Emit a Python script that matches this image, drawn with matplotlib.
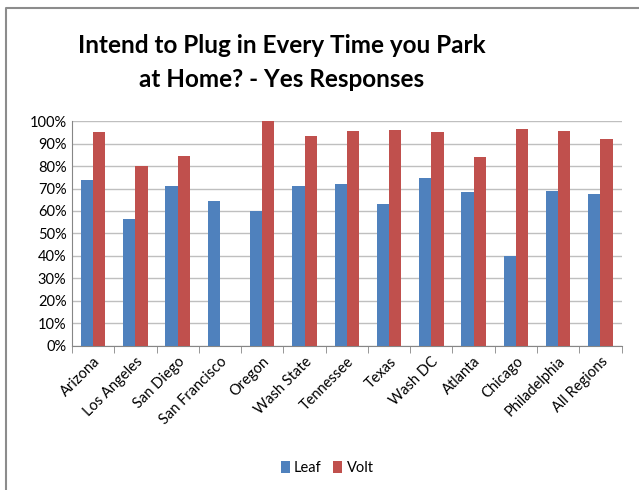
import numpy as np
import matplotlib.pyplot as plt
from matplotlib.lines import Line2D
from matplotlib.ticker import PercentFormatter

regions = ['Arizona', 'Los Angeles', 'San Diego', 'San Francisco', 'Oregon',
           'Wash State', 'Tennessee', 'Texas', 'Wash DC', 'Atlanta',
           'Chicago', 'Philadelphia', 'All Regions']
leaf = [74, 56.5, 71, 64.5, 60, 71, 72, 63, 74.5, 68.5, 40, 69, 67.5]
volt = [95, 80, 84.5, 0, 100, 93.5, 95.5, 96, 95, 84, 96.5, 95.5, 92]

plt.rcParams['font.family'] = ['Lato', 'DejaVu Sans']

fig = plt.figure(figsize=(6.39, 4.90), dpi=100)
ax = fig.add_axes([0.1127, 0.294, 0.860, 0.459])

x = np.arange(len(regions))
w = 0.29
ax.bar(x - w/2, leaf, w, color='#4F81BD', label='Leaf', zorder=3)
ax.bar(x + w/2, volt, w, color='#C0504D', label='Volt', zorder=3)

ax.set_ylim(0, 100)
ax.set_xlim(-0.5, len(regions) - 0.5)
ax.set_yticks(np.arange(0, 101, 10))
ax.yaxis.set_major_formatter(PercentFormatter(decimals=0))
ax.grid(axis='y', color='#BFBFBF', linewidth=1, zorder=0)

# category boundary ticks like Excel
ax.set_xticks(np.arange(-0.5, len(regions) + 0.5, 1), minor=True)
ax.set_xticks(x)
ax.set_xticklabels(regions, rotation=45, ha='right', rotation_mode='anchor', fontsize=10.5)
ax.tick_params(axis='x', which='major', length=0, pad=6)
ax.tick_params(axis='x', which='minor', length=5, color='#868686')
ax.tick_params(axis='y', length=0, labelsize=10.5, pad=4)

for s in ['top', 'right']:
    ax.spines[s].set_visible(False)
ax.spines['left'].set_color('#868686')
ax.spines['bottom'].set_color('#868686')

fig.text(0.4405, 0.872, 'Intend to Plug in Every Time you Park\nat Home? - Yes Responses',
         ha='center', va='center', fontsize=17.5, fontweight='bold', linespacing=1.6)

fig.legend(loc='center', bbox_to_anchor=(0.512, 0.045), ncol=2, frameon=False,
           fontsize=10.5, handlelength=0.6, handleheight=0.9, handletextpad=0.3,
           columnspacing=0.8)

# chart frame, only top and left edges fall inside the picture
fig.lines.append(Line2D([0.0095, 0.0095, 1.0], [0.0, 0.984, 0.984], transform=fig.transFigure,
                        color='#8C8C8C', linewidth=1.5))

fig.savefig('out.png', dpi=100)
